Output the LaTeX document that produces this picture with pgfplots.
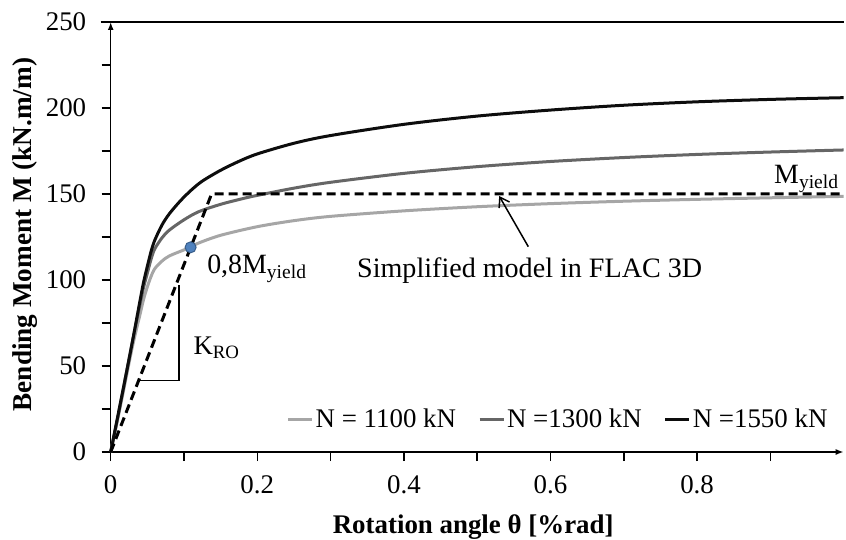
\documentclass[border=0pt]{standalone}
\usepackage{fontspec}
\setmainfont{Liberation Serif}
\usepackage{pgfplots}
\pgfplotsset{compat=1.18}
\usetikzlibrary{arrows.meta}
\definecolor{lg}{HTML}{A6A6A6}
\definecolor{mg}{HTML}{666666}
\definecolor{bk}{HTML}{0D0D0D}
\definecolor{dotfill}{HTML}{4F81BD}
\definecolor{dotedge}{HTML}{385D8A}
\begin{document}
\begin{tikzpicture}[font=\fontsize{27}{32}\selectfont]
\begin{axis}[
  scale only axis, width=733bp, height=430bp,
  xmin=0, xmax=1, ymin=0, ymax=250,
  axis x line=bottom, axis y line=left,
  x axis line style={line width=1.5bp, -{Latex[length=8bp,width=6bp]}},
  y axis line style={line width=1.5bp, -{Latex[length=8bp,width=6bp]}},
  xtick={0,0.2,0.4,0.6,0.8}, xticklabels={0,0.2,0.4,0.6,0.8},
  minor xtick={0.1,0.3,0.5,0.7,0.9},
  ytick={0,50,100,150,200,250}, yticklabels={0,50,100,150,200,250},
  minor ytick={25,75,125,175,225},
  tick align=outside, major tick length=9bp, minor tick length=9bp,
  every tick/.style={line width=1.5bp, black},
  xticklabel style={font=\fontsize{27}{32}\selectfont, yshift=-11bp},
  yticklabel style={font=\fontsize{27}{32}\selectfont, xshift=-12bp},
  xlabel={\textbf{Rotation angle θ [\%rad]}},
  every axis x label/.style={at={(rel axis cs:0.5,0)}, anchor=center, yshift=-75bp, xshift=-4bp},
  label style={font=\fontsize{27}{32}\selectfont},
  clip=false,
  legend style={draw=none, fill=none, at={(axis cs:0.985,19)}, anchor=east,
    font=\fontsize{27}{32}\selectfont,
    /tikz/every even column/.append style={column sep=20bp}},
  legend columns=3,
  legend image code/.code={\draw[#1] (0bp,0bp) -- (24bp,0bp);},
]
\coordinate (O) at (axis cs:0,0);
\addplot[lg, line width=3bp, smooth] coordinates {
(0,0) (0.01,20) (0.02,41) (0.03,62) (0.04,80) (0.045,89) (0.05,96) (0.055,102)
(0.06,106.5) (0.07,111) (0.08,114) (0.1,117.5) (0.11,119.3) (0.12,121.5) (0.15,126)
(0.2,131) (0.25,134.5) (0.3,137) (0.4,140.2) (0.5,142.6) (0.6,144.4) (0.7,145.8)
(0.8,146.9) (0.9,147.8) (1.0,148.6)};
\addlegendentry{N = 1100 kN}
\addplot[mg, line width=3bp, smooth] coordinates {
(0,0) (0.01,21) (0.02,43) (0.03,65) (0.04,86) (0.045,96) (0.05,104) (0.055,112)
(0.06,118) (0.07,124.5) (0.08,129) (0.1,135) (0.12,139.7) (0.15,144) (0.18,147.3)
(0.2,149.2) (0.25,153.4) (0.3,156.8) (0.4,162) (0.5,165.9) (0.6,168.9) (0.7,171.2)
(0.8,173) (0.9,174.4) (1.0,175.6)};
\addlegendentry{N =1300 kN}
\addplot[bk, line width=3bp, smooth] coordinates {
(0,0) (0.01,21.5) (0.02,43) (0.03,65) (0.04,88) (0.045,99) (0.05,108) (0.055,116.5)
(0.06,123) (0.07,132) (0.08,138.5) (0.095,146) (0.11,152.3) (0.125,157.5) (0.15,163.8)
(0.175,169) (0.2,173.3) (0.25,179.5) (0.3,184) (0.4,190.5) (0.5,195.3) (0.6,198.8)
(0.7,201.6) (0.8,203.6) (0.9,205) (1.0,206)};
\addlegendentry{N =1550 kN}
\addplot[black, line width=3bp, dash pattern=on 9bp off 5bp, forget plot] coordinates {
(0,0) (0.1376,150) (1.0,150)};
\addplot[only marks, mark=*, mark size=5.5bp, mark options={fill=dotfill, draw=dotedge, line width=1bp}, forget plot] coordinates {(0.109,119)};
\draw[black, line width=1.5bp] (axis cs:0.039,41.5) -- (axis cs:0.093,41.5) -- (axis cs:0.093,97);
\draw[black, line width=1.5bp, -{Straight Barb[length=9bp, width=12bp]}] (axis cs:0.5697,119.4) -- (axis cs:0.530,148.8);
\draw[black, line width=1.5bp] ([xshift=-10bp]axis cs:0,250) -- (axis cs:1.0,250);
\node[anchor=base west, inner sep=0, font=\fontsize{28}{32}\selectfont] at (axis cs:0.1315,103.9) {0,8M\textsubscript{yield}};
\node[anchor=base west, inner sep=0] at (axis cs:0.1127,56.4) {K\textsubscript{RO}};
\node[anchor=base west, inner sep=0, font=\fontsize{28.2}{32}\selectfont] at (axis cs:0.336,101.5) {Simplified model in FLAC 3D};
\node[anchor=base west, inner sep=0, font=\fontsize{28}{32}\selectfont] at (axis cs:0.9049,156.2) {M\textsubscript{yield}};
\end{axis}
\node[rotate=90, anchor=base, inner sep=0, font=\fontsize{27.3}{32}\selectfont\bfseries] at ([shift={(-78.7bp,217.5bp)}]O) {Bending Moment M (kN.m/m)};
\pgfresetboundingbox
\path ([shift={(-110.7bp,-88bp)}]O) rectangle ([shift={(735.3bp,452bp)}]O);
\end{tikzpicture}
\end{document}
